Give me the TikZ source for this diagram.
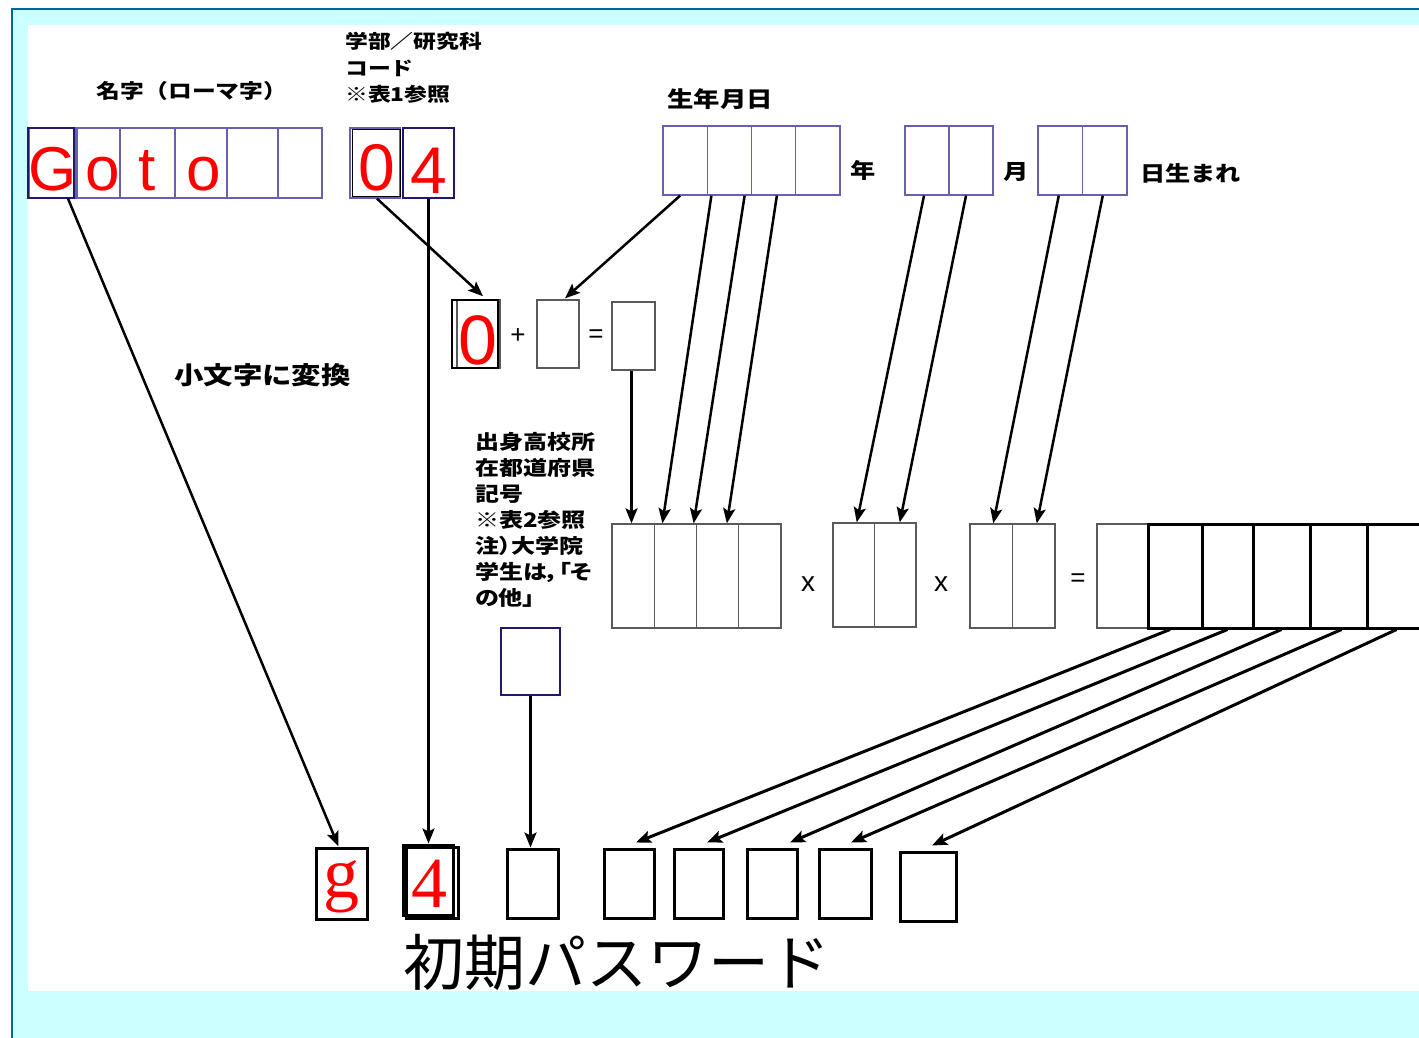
\documentclass[tikz,border=0pt]{standalone}
\usepackage{fontspec}
\usetikzlibrary{arrows.meta}
\newfontfamily\jp{Noto Sans CJK JP}
\newfontfamily\jpw[FakeStretch=1.2]{Noto Sans CJK JP}
\newfontfamily\jpp[FakeStretch=1.2, RawFeature=+palt]{Noto Sans CJK JP}
\newfontfamily\sansf{Liberation Sans}
\newfontfamily\seriff{Liberation Serif}
\definecolor{cellblue}{RGB}{105,95,175}
\definecolor{navyline}{RGB}{30,25,110}
\definecolor{frameblue}{RGB}{0,102,153}
\definecolor{paleaqua}{RGB}{204,255,255}
\definecolor{boxgray}{RGB}{90,90,90}

\tikzset{
    thincell/.style={draw=cellblue, line width=1.3pt, inner sep=0pt},
    navycell/.style={draw=navyline, line width=2.6pt, inner sep=0pt},
    graycell/.style={draw=boxgray, line width=1.3pt, inner sep=0pt},
    blackcell/.style={draw=black, line width=1.5pt, inner sep=0pt},
    heavycell/.style={draw=black, line width=3pt, inner sep=0pt},
    arr/.style={line width=2.5pt, -{Stealth[length=15pt,width=12pt,inset=3pt]}},
    lbl/.style={font=\jpw\bfseries\fontsize{#1}{26}\selectfont, inner sep=0pt, align=left},
    lbl/.default=19,
    op/.style={font=\sansf\fontsize{26}{26}\selectfont, inner sep=0pt},
    redsans/.style={text=red, font=\sansf\fontsize{#1}{#1}\selectfont, inner sep=0pt, anchor=base},
    redsans/.default=62,
    redserif/.style={text=red, font=\seriff\fontsize{72}{72}\selectfont, inner sep=0pt, anchor=base}
}

\begin{document}
\begin{tikzpicture}[x=1pt,y=-1pt]

            \useasboundingbox (0,0) rectangle (1419,1038);
            \fill[white] (0,0) rectangle (1419,1038);
            \fill[paleaqua] (12,9) rectangle (1419,1038);
            \fill[white] (28,25) rectangle (1419,991);
            \draw[frameblue, line width=2.5pt] (12,1038) -- (12,9) -- (1419,9);

            \foreach \n/\a/\b in {1/29/75, 2/77/120, 3/120/175, 4/175/227, 5/227/278, 6/278/322} {
                    \node[thincell, minimum width=\b-\a, minimum height=70] (nm\n) at ({(\a+\b)/2},163) {};
                }
            \draw[navyline, line width=2.6pt] (28,128) rectangle (74,198);
            \foreach \c/\n/\dx in {G/1/1, o/2/4.5, t/3/0, o/4/3} {
                    \node[redsans] (ch\n) at ([xshift=\dx pt,yshift=8pt]nm\n.south) {\c};
                }

            \node[thincell, minimum width=50, minimum height=70] (cd1) at (375,163) {};
            \draw[black, line width=1.5pt] ([xshift=3pt,yshift=-2pt]cd1.north west) rectangle ([yshift=2pt]cd1.south east);
            \node[navycell, minimum width=51, minimum height=70] (cd2) at (428.5,163) {};
            \node[redsans=66] (ch5) at ([xshift=2pt,yshift=8pt]cd1.south) {0};
            \node[redsans=66] (ch6) at ([yshift=6pt]cd2.south) {4};

            \node[lbl=19.8] (lbname) at (192,91) {名字（ローマ字）};
            \node[lbl, anchor=west, font=\jpw\bfseries\fontsize{19}{26.5}\selectfont] (lbcode) at (345,68) {学部／研究科\\コード\\※表1参照};
            \node[lbl=22, anchor=west] (lbbirth) at (667,99) {生年月日};
            \node[lbl=21] (lbyear) at (863,170) {年};
            \node[lbl=21] (lbmonth) at (1016,172) {月};
            \node[lbl=21, anchor=west] (lbday) at (1140,173) {日生まれ};
            \node[lbl=24.5, anchor=west] (lblower) at (174,375) {小文字に変換};
            \node[lbl=20, anchor=west, font=\jpp\bfseries\fontsize{20}{26}\selectfont] (lbpref) at (475,520) {出身高校所\\在都道府県\\記号\\※表2参照\\注）大学院\\学生は，「そ\\の他」};

            \foreach \i in {1,...,4} {
                    \node[thincell, minimum width=44.25, minimum height=69] (yr\i) at ({663+44.25*(\i-0.5)},160.5) {};
                }
            \foreach \i in {1,2} {
                    \node[thincell, minimum width=44, minimum height=69] (mo\i) at ({905+44*(\i-0.5)},160.5) {};
                    \node[thincell, minimum width=44.5, minimum height=69] (dy\i) at ({1038+44.5*(\i-0.5)},160.5) {};
                }

            \node[graycell, minimum width=43, minimum height=68] (sm1b) at (478.5,334) {};
            \node[blackcell, minimum width=46, minimum height=68] (sm1) at (475,334) {};
            \node[redsans=70] (ch7) at ([xshift=3pt,yshift=4pt]sm1.south) {0};
            \node[op] (plus) at (518,336) {+};
            \node[graycell, minimum width=42, minimum height=68] (sm2) at (558,334) {};
            \node[op] (eq1) at (596,336) {=};
            \node[graycell, minimum width=43, minimum height=68] (sm3) at (633.5,336) {};

            \foreach \i in {1,...,4} {
                    \node[graycell, minimum width=42.25, minimum height=104] (py\i) at ({612+42.25*(\i-0.5)},576) {};
                }
            \node[op, font=\sansf\fontsize{28}{28}\selectfont] (times1) at (808,584) {x};
            \foreach \i in {1,2} {
                    \node[graycell, minimum width=41.5, minimum height=104] (pm\i) at ({833+41.5*(\i-0.5)},575) {};
                    \node[graycell, minimum width=42.5, minimum height=104] (pd\i) at ({970+42.5*(\i-0.5)},576) {};
                }
            \node[op, font=\sansf\fontsize{28}{28}\selectfont] (times2) at (941,584) {x};
            \node[op] (eq2) at (1078,580) {=};
            \node[graycell, minimum width=51, minimum height=104] (rs0) at (1122.5,576) {};
            \foreach \i/\a/\b in {1/1148/1202, 2/1202/1253, 3/1253/1310, 4/1310/1367, 5/1367/1426} {
                    \node[heavycell, minimum width=\b-\a, minimum height=104] (rs\i) at ({(\a+\b)/2},576) {};
                }

            \node[navycell, minimum width=59, minimum height=67] (pf) at (530.5,661.5) {};

            \node[heavycell, minimum width=51, minimum height=71] (pw1) at (341.5,883.5) {};
            \node[heavycell, minimum width=52, minimum height=71] (pw2b) at (432,882.5) {};
            \node[heavycell, minimum width=50, minimum height=70] (pw2) at (428,880) {};
            \foreach \i/\a/\b in {3/507/558, 4/604/654, 5/674/723, 6/747/797, 7/819/871} {
                    \node[heavycell, minimum width=\b-\a, minimum height=69] (pw\i) at ({(\a+\b)/2},883.5) {};
                }
            \node[heavycell, minimum width=56, minimum height=69] (pw8) at (928,886.5) {};
            \node[redserif] (ch8) at ([yshift=23pt]pw1.south) {g};
            \node[redserif] (ch9) at ([xshift=1pt,yshift=9pt]pw2.south) {4};

            \node[font=\jp\fontsize{61}{61}\selectfont, inner sep=0pt] (lbpass) at (617,962) {初期パスワード};

            \draw[arr] ([xshift=16pt]nm1.south) -- ([xshift=-3pt]pw1.north);
            \draw[arr] ([xshift=2pt]cd1.south) -- ([xshift=8pt,yshift=3pt]sm1.north);
            \draw[arr] (cd2.south) -- (cd2.south |- pw2.north);
            \draw[arr] ([xshift=-5pt]yr1.south) -- ([xshift=7pt,yshift=1pt]sm2.north);
            \draw[arr] ([xshift=-2pt]sm3.south) -- ([xshift=-2pt]sm3.south |- py1.north);
            \foreach \s/\sx/\t/\tx in {yr2/-18/py2/-13, yr3/-29/py3/-24, yr4/-41/py4/-33, mo1/-3/pm1/3, mo2/-5/pm2/4.5, dy1/-1.5/pd1/2, dy2/-2/pd2/3} {
                    \draw[arr] ([xshift=\sx pt]\s.south) -- ([xshift=\tx pt]\t.north);
                }
            \draw[arr] (pf.south) -- (pf.south |- pw3.north);
            \foreach \s/\sx/\t/\tx in {rs1/-5/pw4/7, rs2/0/pw5/8.5, rs3/0/pw6/18, rs4/3/pw7/6, rs5/0/pw8/4} {
                    \draw[arr, line width=3pt] ([xshift=\sx pt]\s.south) -- ([xshift=\tx pt,yshift=5pt]\t.north);
                }

        \end{tikzpicture}
\end{document}
